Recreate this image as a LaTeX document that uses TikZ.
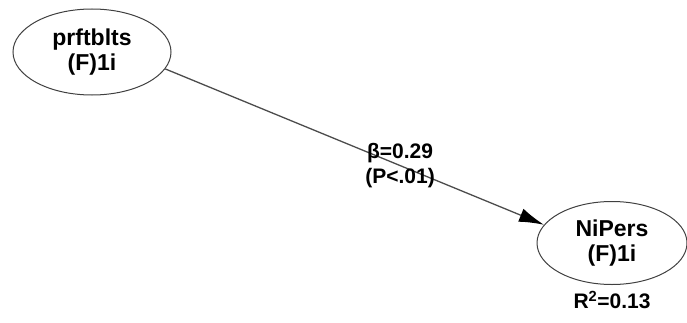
\documentclass[tikz,border=0pt]{standalone}
\usepackage{fontspec}
\setmainfont{Liberation Sans}
\usetikzlibrary{arrows.meta,positioning,shapes.geometric}

\begin{document}
\begin{tikzpicture}[
    x=1pt, y=1pt,
    >=Latex,
    latent/.style={draw=black!75, ellipse, line width=1pt, inner sep=0pt,
      minimum width=158pt, minimum height=86pt, align=center,
      font=\fontsize{23}{25}\selectfont\bfseries},
    effect/.style={draw=black!70, line width=1.3pt},
    est/.style={font=\fontsize{21}{25}\selectfont\bfseries, align=center, inner sep=1pt},
  ]
  \useasboundingbox (0,0) rectangle (687,322);
  \node[latent] (prf) at (92,270) {prftblts\\(F)1i};
  \node[latent, minimum width=150pt, minimum height=83pt] (nip) at (612,79) {NiPers\\(F)1i};
  \node[below=5pt of nip, est] (rsq) {R\textsuperscript{2}=0.13};
  % path estimate sits on the line
  \draw[effect, -{Latex[length=25pt,width=14pt,black]}] (prf.-13) --
    node[pos=0.62, est] {β=0.29\\(P<.01)} (nip.165);
\end{tikzpicture}
\end{document}
